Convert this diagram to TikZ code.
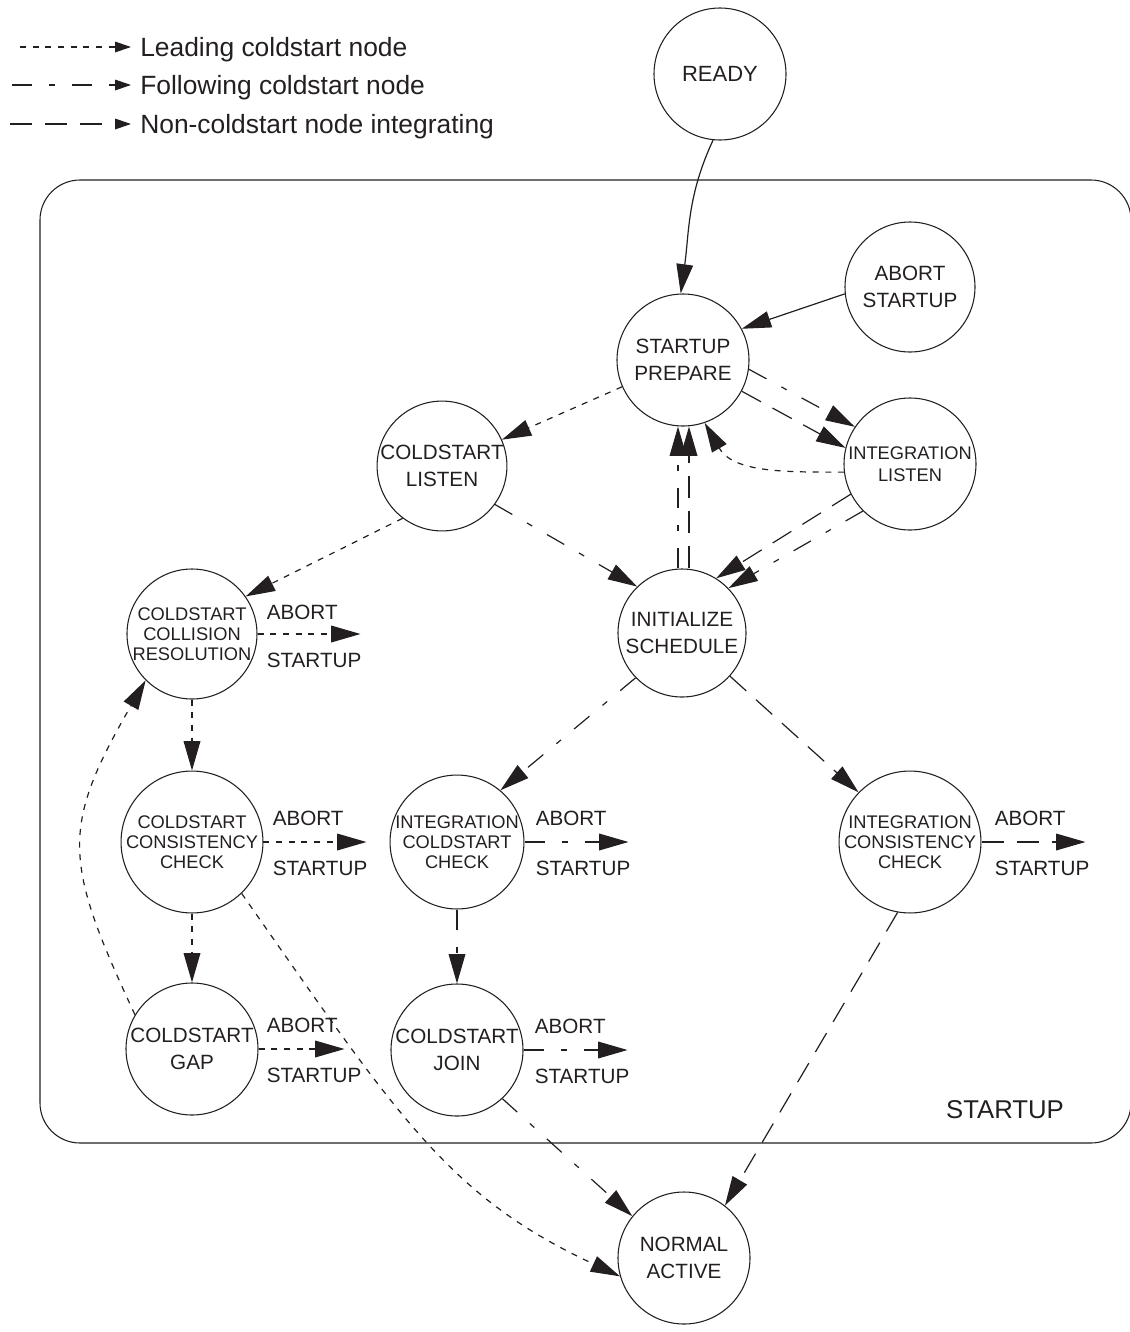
\documentclass[tikz,border=0pt]{standalone}
\usepackage{fontspec}
\setmainfont{Liberation Sans}
\usetikzlibrary{arrows.meta,calc}
\definecolor{ink}{RGB}{35,31,32}
\begin{document}
\begin{tikzpicture}[x=0.75pt,y=0.75pt,
  state/.style={draw=ink,circle,line width=0.8pt,minimum size=99pt,inner sep=0pt,align=center,text=ink,font=\fontsize{15.5}{20}\selectfont},
  smalltext/.style={font=\fontsize{13.7}{15}\selectfont},
  conn/.style={draw=ink,line width=0.9pt,-{Triangle[length=22pt,width=12.5pt]}},
  legtip/.style={-{Triangle[length=12pt,width=8pt]}},
  leading/.style={conn,dash pattern=on 4.5pt off 5pt},
  following/.style={conn,dash pattern=on 15pt off 12.75pt on 4.5pt off 12.75pt},
  integrating/.style={conn,dash pattern=on 16.5pt off 9.75pt},
  plain/.style={conn},
  lbl/.style={text=ink,inner sep=0pt,font=\fontsize{15.5}{20}\selectfont},
  legtext/.style={text=ink,inner sep=0pt,font=\fontsize{19.8}{24}\selectfont},
]
\useasboundingbox (0,0) rectangle (1129,-1332);

% startup region
\draw[ink,line width=0.8pt,rounded corners=30pt] (40,-180) rectangle (1131,-1143);
\node[text=ink,inner sep=0pt,font=\fontsize{19.3}{24}\selectfont] (boxlabel) at (1005,-1110) {STARTUP};

% legend
\coordinate (la1) at (20,-47);  \coordinate (lb1) at (131,-47);
\coordinate (la2) at (12,-85);  \coordinate (lb2) at (131,-85);
\coordinate (la3) at (10,-124); \coordinate (lb3) at (131,-124);
\draw[leading,legtip] (la1) -- (lb1);
\draw[following,legtip] (la2) -- (lb2);
\draw[integrating,legtip] (la3) -- (lb3);
\node[legtext,anchor=base west] (lg1) at (140,-56) {Leading coldstart node};
\node[legtext,anchor=base west] (lg2) at (140,-94) {Following coldstart node};
\node[legtext,anchor=base west] (lg3) at (140,-133) {Non-coldstart node integrating};

% states
\node[state,font=\fontsize{16.5}{20}\selectfont] (ready) at (720,-74) {READY};
\node[state,minimum size=97.5pt] (as) at (910,-287) {ABORT\\STARTUP};
\node[state] (sp) at (683,-360) {STARTUP\\PREPARE};
\node[state,minimum size=87pt] (cl) at (442,-466) {COLDSTART\\LISTEN};
\node[state,font=\fontsize{13.7}{16.5}\selectfont] (il) at (910,-464) {INTEGRATION\\LISTEN};
\node[state,minimum size=96pt] (is) at (682,-633) {INITIALIZE\\SCHEDULE};
\node[state,smalltext,minimum size=97.5pt] (ccr) at (192,-634) {COLDSTART\\COLLISION\\RESOLUTION};
\node[state,smalltext] (ccc) at (192,-842) {COLDSTART\\CONSISTENCY\\CHECK};
\node[state,smalltext] (icc) at (457,-842) {INTEGRATION\\COLDSTART\\CHECK};
\node[state,smalltext] (ics) at (910,-842) {INTEGRATION\\CONSISTENCY\\CHECK};
\node[state] (gap) at (192,-1049) {COLDSTART\\GAP};
\node[state] (join) at (457,-1050) {COLDSTART\\JOIN};
\node[state] (na) at (684,-1258) {NORMAL\\ACTIVE};

% abort exits
\coordinate (ccrab) at ($(ccr.east)+(103,0)$);
\coordinate (cccab) at ($(ccc.east)+(103,0)$);
\coordinate (iccab) at ($(icc.east)+(104,0)$);
\coordinate (icsab) at ($(ics.east)+(104,0)$);
\coordinate (gapab) at ($(gap.east)+(86,0)$);
\coordinate (joinab) at ($(join.east)+(104,0)$);
\draw[leading] (ccr.east) -- (ccrab);
\draw[leading] (ccc.east) -- (cccab);
\draw[following] (icc.east) -- (iccab);
\draw[integrating] (ics.east) -- (icsab);
\draw[leading] (gap.east) -- (gapab);
\draw[following] (join.east) -- (joinab);
\node[lbl,anchor=base west] (ccra) at ($(ccr.east)+(9,15)$) {ABORT};
\node[lbl,anchor=base west] (ccrs) at ($(ccr.east)+(9,-33)$) {STARTUP};
\node[lbl,anchor=base west] (ccca) at ($(ccc.east)+(9,17)$) {ABORT};
\node[lbl,anchor=base west] (cccs) at ($(ccc.east)+(9,-33)$) {STARTUP};
\node[lbl,anchor=base west] (icca) at ($(icc.east)+(11,17)$) {ABORT};
\node[lbl,anchor=base west] (iccs) at ($(icc.east)+(11,-33)$) {STARTUP};
\node[lbl,anchor=base west] (icsa) at ($(ics.east)+(13,17)$) {ABORT};
\node[lbl,anchor=base west] (icss) at ($(ics.east)+(13,-33)$) {STARTUP};
\node[lbl,anchor=base west] (gapa) at ($(gap.east)+(8,17)$) {ABORT};
\node[lbl,anchor=base west] (gaps) at ($(gap.east)+(8,-33)$) {STARTUP};
\node[lbl,anchor=base west] (joina) at ($(join.east)+(11,17)$) {ABORT};
\node[lbl,anchor=base west] (joins) at ($(join.east)+(11,-33)$) {STARTUP};

% transitions
\draw[plain] (ready.-96) to[out=-115,in=82] (sp.92);
\draw[plain] (as.186) -- (sp.28);
\draw[leading] (sp) -- (cl);
\draw[following] (sp.-8) -- (il.146);
\draw[integrating] (sp.-28) -- (il.166);
\draw[leading] (il.187) to[out=180,in=-60] (sp.-71);
\draw[following] ($(is.north)+(-4,0)$) -- ($(sp.south)+(-5,0)$);
\draw[integrating] ($(is.north)+(7,0)$) -- ($(sp.south)+(6,0)$);
\draw[integrating] (il.207) -- (is.58);
\draw[following] (il.225) -- (is.44);
\draw[following] (cl.-36) -- (is.134);
\draw[leading] (cl.233) -- (ccr.35);
\draw[leading] (ccr.south) -- (ccc.north);
\draw[leading] (ccc.south) -- (gap.north);
\draw[leading] (gap.149) to[out=115,in=-120,looseness=1.3] (ccr.225);
\draw[leading] (ccc.-46) to[out=-55,in=155,out looseness=1.3,in looseness=0.9] (na.196);
\draw[following] (is.224) -- (icc.50);
\draw[integrating] (is.-42) -- (ics.136);
\draw[following] (icc.south) -- (join.north);
\draw[following] (join.-47) -- (na.141);
\draw[integrating] (ics.-100) -- (na.52);
\end{tikzpicture}
\end{document}
